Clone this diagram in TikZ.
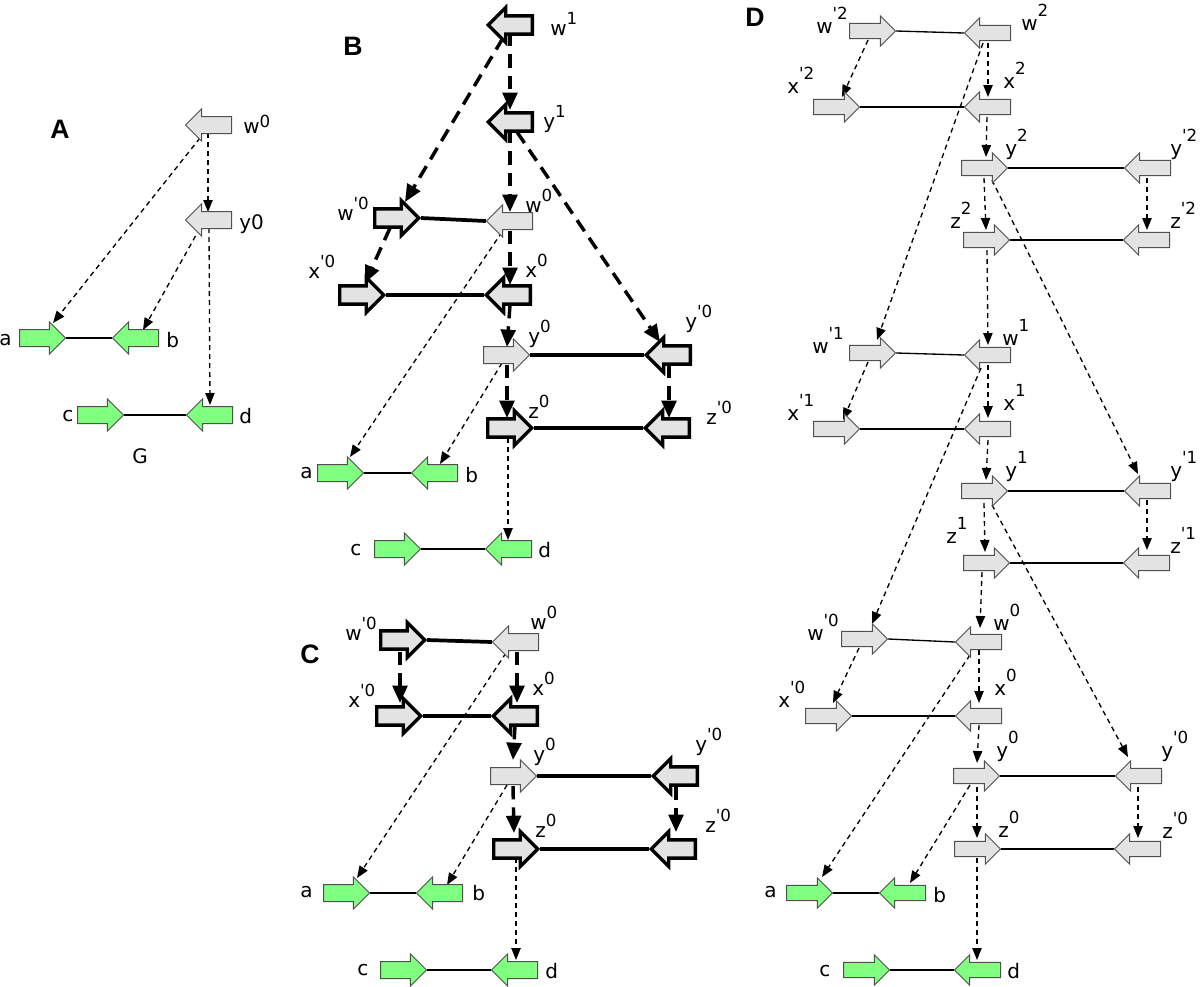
\documentclass[tikz,border=0pt]{standalone}
\usepackage{fontspec}
\setmainfont{DejaVu Sans}
\newfontfamily\panelfont{Liberation Sans}
\usetikzlibrary{shapes.arrows,arrows.meta,calc}
\pgfdeclarelayer{back}
\pgfdeclarelayer{bg}
\pgfsetlayers{back,bg,main}
\definecolor{lgray}{HTML}{E3E3E3}
\definecolor{lgreen}{HTML}{80FF80}
\definecolor{bord}{HTML}{505050}
\newcommand\sps[2][8]{\raisebox{#1pt}{\fontsize{12.5}{12.5}\selectfont #2}}
\newcommand\pr{\textquotesingle}
\begin{document}
\begin{tikzpicture}[x=0.75pt,y=-0.75pt,
  arr/.style={single arrow,inner xsep=0pt,inner ysep=6pt,single arrow head extend=5.7pt,
    minimum height=34.5pt,single arrow tip angle=90,anchor=tail,line join=miter},
  R/.style={arr},
  L/.style={arr,shape border rotate=180},
  dsz/.style={inner ysep=5.3pt,single arrow head extend=5.6pt},
  thinbox/.style={draw=bord,fill=lgray,line width=0.75pt},
  thickbox/.style={draw=black,fill=lgray,line width=2.5pt,inner ysep=5.6pt,single arrow head extend=6.2pt,minimum height=33pt},
  greenbox/.style={draw=bord,fill=lgreen,line width=0.75pt},
  thind/.style={dash pattern=on 3.75pt off 3pt,line width=1pt,-{Triangle[length=9pt,width=7pt]}},
  thickd/.style={dash pattern=on 10pt off 6pt,line width=2.6pt,-{Triangle[length=13pt,width=11pt]}},
  thickline/.style={line width=2.8pt},
  midline/.style={line width=2.2pt},
  dline/.style={line width=1pt},
  lab/.style={anchor=base west,inner sep=0pt,font=\fontsize{15}{15}\selectfont},
  plab/.style={anchor=base west,inner sep=0pt,font=\panelfont\bfseries\fontsize{20}{20}\selectfont}
]
\begin{pgfonlayer}{back}
\fill[white] (0,0) rectangle (1200,986);
\end{pgfonlayer}
\useasboundingbox (0,0) rectangle (1200,986);

% ================= Panel A =================
\node[plab] (Alet) at (50,138) {A};
\node[L,thinbox] (Aw0) at (232,125) {};
\node[L,thinbox] (Ay0) at (232,220) {};
\node[R,greenbox] (Aa) at (19,338) {};
\node[L,greenbox] (Ab) at (159,338) {};
\node[R,greenbox] (Ac) at (77,415) {};
\node[L,greenbox] (Ad) at (233,415) {};
\node[lab] (Aw0l) at (243,133) {w\sps[4]{0}};
\node[lab] (Ay0l) at (239,229) {y0};
\node[lab] (Aal) at (-1,345) {a};
\node[lab] (Abl) at (166,347) {b};
\node[lab] (Acl) at (62,421) {c};
\node[lab] (Adl) at (239,423) {d};
\node[lab] (AG) at (132,463) {G};

% ================= Panel B =================
\node[plab] (Blet) at (343,55) {B};
\node[L,thickbox] (Bw1) at (534,25) {};
\node[L,thickbox] (By1) at (534,122) {};
\node[R,thickbox] (Bwp0) at (373,218) {};
\node[L,thinbox] (Bw0) at (533,221) {};
\node[R,thickbox] (Bxp0) at (338,295) {};
\node[L,thickbox] (Bx0) at (532,295) {};
\node[R,thinbox] (By0) at (483,355) {};
\node[L,thickbox] (Byp0) at (692,355) {};
\node[R,thickbox] (Bz0) at (486,428) {};
\node[L,thickbox] (Bzp0) at (691,428) {};
\node[R,greenbox] (Ba) at (317,473) {};
\node[L,greenbox] (Bb) at (458,473) {};
\node[R,greenbox] (Bc) at (374,549) {};
\node[L,greenbox] (Bd) at (532,549) {};
\node[lab] (Bw1l) at (550,35) {w\sps{1}};
\node[lab] (By1l) at (543,128) {y\sps{1}};
\node[lab] (Bwp0l) at (337,220) {w\sps{\pr0}};
\node[lab] (Bw0l) at (525,212) {w\sps{0}};
\node[lab] (Bxp0l) at (308,278) {x\sps{\pr0}};
\node[lab] (Bx0l) at (525,277) {x\sps{0}};
\node[lab] (By0l) at (528,343) {y\sps{0}};
\node[lab] (Byp0l) at (685,328) {y\sps{\pr0}};
\node[lab] (Bz0l) at (528,418) {z\sps{0}};
\node[lab] (Bzp0l) at (706,424) {z\sps{\pr0}};
\node[lab] (Bal) at (300,478) {a};
\node[lab] (Bbl) at (465,482) {b};
\node[lab] (Bcl) at (350,555) {c};
\node[lab] (Bdl) at (538,557) {d};

% ================= Panel C =================
\node[plab] (Clet) at (300,663) {C};
\node[R,thickbox] (Cwp0) at (379,640) {};
\node[L,thinbox] (Cw0) at (539,642) {};
\node[R,thickbox] (Cxp0) at (375,716) {};
\node[L,thickbox] (Cx0) at (539,716) {};
\node[R,thinbox] (Cy0) at (490,776) {};
\node[L,thickbox] (Cyp0) at (699,776) {};
\node[R,thickbox] (Cz0) at (492,849) {};
\node[L,thickbox] (Czp0) at (697,849) {};
\node[R,greenbox] (Ca) at (323,893) {};
\node[L,greenbox] (Cb) at (463,893) {};
\node[R,greenbox] (Cc) at (380,970) {};
\node[L,greenbox] (Cd) at (538,970) {};
\node[lab] (Cwp0l) at (345,640) {w\sps{\pr0}};
\node[lab] (Cw0l) at (530,629) {w\sps{0}};
\node[lab] (Cxp0l) at (348,707) {x\sps{\pr0}};
\node[lab] (Cx0l) at (532,695) {x\sps{0}};
\node[lab] (Cy0l) at (533,761) {y\sps{0}};
\node[lab] (Cyp0l) at (695,751) {y\sps{\pr0}};
\node[lab] (Cz0l) at (535,837) {z\sps{0}};
\node[lab] (Czp0l) at (705,832) {z\sps{\pr0}};
\node[lab] (Cal) at (300,897) {a};
\node[lab] (Cbl) at (472,900) {b};
\node[lab] (Ccl) at (357,975) {c};
\node[lab] (Cdl) at (545,978) {d};

% ================= Panel D =================
\node[plab] (Dlet) at (745,26) {D};
\node[R,dsz,thinbox] (Dwp2) at (849,31) {};
\node[L,dsz,thinbox] (Dw2) at (1011,33) {};
\node[R,dsz,thinbox] (Dxp2) at (813,107) {};
\node[L,dsz,thinbox] (Dx2) at (1011,107) {};
\node[R,dsz,thinbox] (Dy2) at (961,168) {};
\node[L,dsz,thinbox] (Dyp2) at (1171,168) {};
\node[R,dsz,thinbox] (Dz2) at (963,240) {};
\node[L,dsz,thinbox] (Dzp2) at (1170,240) {};
\node[R,dsz,thinbox] (Dwp1) at (849,353) {};
\node[L,dsz,thinbox] (Dw1) at (1011,355) {};
\node[R,dsz,thinbox] (Dxp1) at (813,429) {};
\node[L,dsz,thinbox] (Dx1) at (1011,429) {};
\node[R,dsz,thinbox] (Dy1) at (961,491) {};
\node[L,dsz,thinbox] (Dyp1) at (1171,491) {};
\node[R,dsz,thinbox] (Dz1) at (963,563) {};
\node[L,dsz,thinbox] (Dzp1) at (1170,563) {};
\node[R,dsz,thinbox] (Dwp0) at (841,639) {};
\node[L,dsz,thinbox] (Dw0) at (1002,642) {};
\node[R,dsz,thinbox] (Dxp0) at (805,716) {};
\node[L,dsz,thinbox] (Dx0) at (1002,716) {};
\node[R,dsz,thinbox] (Dy0) at (953,776) {};
\node[L,dsz,thinbox] (Dyp0) at (1162,776) {};
\node[R,dsz,thinbox] (Dz0) at (954,849) {};
\node[L,dsz,thinbox] (Dzp0) at (1161,849) {};
\node[R,dsz,greenbox] (Da) at (786,893) {};
\node[L,dsz,greenbox] (Db) at (926,893) {};
\node[R,dsz,greenbox] (Dc) at (843,970) {};
\node[L,dsz,greenbox] (Dd) at (1001,970) {};
\node[lab] (Dwp2l) at (816,33) {w\sps[10]{\pr2}};
\node[lab] (Dw2l) at (1021,30) {w\sps[10]{2}};
\node[lab] (Dxp2l) at (787,93) {x\sps[10]{\pr2}};
\node[lab] (Dx2l) at (1003,88) {x\sps[10]{2}};
\node[lab] (Dy2l) at (1005,155) {y\sps[10]{2}};
\node[lab] (Dyp2l) at (1170,155) {y\sps[10]{\pr2}};
\node[lab] (Dz2l) at (950,228) {z\sps[10]{2}};
\node[lab] (Dzp2l) at (1170,228) {z\sps[10]{\pr2}};
\node[lab] (Dwp1l) at (812,353) {w\sps[10]{\pr1}};
\node[lab] (Dw1l) at (1002,345) {w\sps[10]{1}};
\node[lab] (Dxp1l) at (787,420) {x\sps[10]{\pr1}};
\node[lab] (Dx1l) at (1003,410) {x\sps[10]{1}};
\node[lab] (Dy1l) at (1005,477) {y\sps[10]{1}};
\node[lab] (Dyp1l) at (1170,477) {y\sps[10]{\pr1}};
\node[lab] (Dz1l) at (946,543) {z\sps[10]{1}};
\node[lab] (Dzp1l) at (1170,553) {z\sps[10]{\pr1}};
\node[lab] (Dwp0l) at (807,640) {w\sps[10]{\pr0}};
\node[lab] (Dw0l) at (993,630) {w\sps[10]{0}};
\node[lab] (Dxp0l) at (778,707) {x\sps[10]{\pr0}};
\node[lab] (Dx0l) at (994,695) {x\sps[10]{0}};
\node[lab] (Dy0l) at (996,757) {y\sps[10]{0}};
\node[lab] (Dyp0l) at (1161,757) {y\sps[10]{\pr0}};
\node[lab] (Dz0l) at (998,837) {z\sps[10]{0}};
\node[lab] (Dzp0l) at (1162,838) {z\sps[10]{\pr0}};
\node[lab] (Dal) at (764,897) {a};
\node[lab] (Dbl) at (933,902) {b};
\node[lab] (Dcl) at (819,976) {c};
\node[lab] (Ddl) at (1007,978) {d};

% ================= connectors =================
\begin{pgfonlayer}{bg}
% A
\draw[midline] (Aa.tip) -- (Ab.tip);
\draw[midline] (Ac.tip) -- (Ad.tip);
\draw[thind] ($(Aw0.tail)+(-32,13)$) -- ($(Aa.tail)+(34,-15)$);
\draw[thind] ($(Aw0.tail)+(-24,8)$) -- ($(Ay0.tail)+(-24,-8)$);
\draw[thind] ($(Ay0.tail)+(-32,8)$) -- ($(Ab.tail)+(-16,-8)$);
\draw[thind] ($(Ay0.tail)+(-23,8)$) -- ($(Ad.tail)+(-23,-10)$);
% B
\draw[thickline] (Bwp0.tip) -- (Bw0.tip);
\draw[thickline] (Bxp0.tip) -- (Bx0.tip);
\draw[thickline] (By0.tip) -- (Byp0.tip);
\draw[thickline] (Bz0.tip) -- (Bzp0.tip);
\draw[midline] (Ba.tip) -- (Bb.tip);
\draw[midline] (Bc.tip) -- (Bd.tip);
\draw[thickd] ($(Bw1.tail)+(-24,8)$) -- ($(By1.tail)+(-24,-12)$);
\draw[thickd] ($(Bw1.tail)+(-31,13)$) -- ($(Bwp0.tail)+(32,-16)$);
\draw[thickd] ($(By1.tail)+(-24,8)$) -- ($(Bw0.tail)+(-23,-9)$);
\draw[thickd] ($(By1.tail)+(-17,10)$) -- ($(Byp0.tail)+(-32,-13)$);
\draw[thickd] ($(Bwp0.tail)+(17,10)$) -- ($(Bxp0.tail)+(27,-12)$);
\draw[thickd] ($(Bw0.tail)+(-23,10)$) -- ($(Bx0.tail)+(-22,-10)$);
\draw[thickd] ($(Bx0.tail)+(-22,10)$) -- ($(By0.tail)+(24,-8)$);
\draw[thickd] ($(By0.tail)+(24,10)$) -- ($(Bz0.tail)+(21,-10)$);
\draw[thickd] ($(Byp0.tail)+(-23,10)$) -- ($(Bzp0.tail)+(-22,-10)$);
\draw[thind] ($(Bw0.tail)+(-31,11)$) -- ($(Ba.tail)+(33,-16)$);
\draw[thind] ($(By0.tail)+(19,8)$) -- ($(Bb.tail)+(-18,-9)$);
\draw[thind] ($(Bz0.tail)+(22,10)$) -- ($(Bd.tail)+(-24,-9)$);
% C
\draw[thickline] (Cwp0.tip) -- (Cw0.tip);
\draw[thickline] (Cxp0.tip) -- (Cx0.tip);
\draw[thickline] (Cy0.tip) -- (Cyp0.tip);
\draw[thickline] (Cz0.tip) -- (Czp0.tip);
\draw[midline] (Ca.tip) -- (Cb.tip);
\draw[midline] (Cc.tip) -- (Cd.tip);
\draw[thickd] ($(Cwp0.tail)+(21,12)$) -- ($(Cxp0.tail)+(25,-13)$);
\draw[thickd] ($(Cw0.tail)+(-22,10)$) -- ($(Cx0.tail)+(-22,-13)$);
\draw[thickd] ($(Cx0.tail)+(-24,10)$) -- ($(Cy0.tail)+(23,-16)$);
\draw[thickd] ($(Cy0.tail)+(23,10)$) -- ($(Cz0.tail)+(22,-16)$);
\draw[thickd] ($(Cyp0.tail)+(-23,11)$) -- ($(Czp0.tail)+(-21,-17)$);
\draw[thind] ($(Cw0.tail)+(-33,11)$) -- ($(Ca.tail)+(34,-15)$);
\draw[thind] ($(Cy0.tail)+(17,9)$) -- ($(Cb.tail)+(-16,-8)$);
\draw[thind] ($(Cz0.tail)+(24,9)$) -- ($(Cd.tail)+(-22,-10)$);
% D
\foreach \l in {2,1,0}{
  \draw[dline] (Dwp\l.tip) -- (Dw\l.tip);
  \draw[dline] (Dxp\l.tip) -- (Dx\l.tip);
  \draw[dline] (Dy\l.tip) -- (Dyp\l.tip);
  \draw[dline] (Dz\l.tip) -- (Dzp\l.tip);
}
\draw[dline] (Da.tip) -- (Db.tip);
\draw[dline] (Dc.tip) -- (Dd.tip);
\draw[thind] ($(Dwp2.tail)+(19,9)$) -- ($(Dxp2.tail)+(29,-10)$);
\draw[thind] ($(Dw2.tail)+(-23,10)$) -- ($(Dx2.tail)+(-23,-10)$);
\draw[thind] ($(Dw2.tail)+(-28,10)$) -- ($(Dwp1.tail)+(28,-13)$);
\draw[thind] ($(Dx2.tail)+(-24,10)$) -- ($(Dy2.tail)+(25,-11)$);
\draw[thind] ($(Dy2.tail)+(23,10)$) -- ($(Dz2.tail)+(23,-10)$);
\draw[thind] ($(Dy2.tail)+(31,12)$) -- ($(Dyp1.tail)+(-33,-17)$);
\draw[thind] ($(Dyp2.tail)+(-24,10)$) -- ($(Dzp2.tail)+(-23,-10)$);
\draw[thind] ($(Dz2.tail)+(24,10)$) -- ($(Dw1.tail)+(-23,-10)$);
\draw[thind] ($(Dwp1.tail)+(19,9)$) -- ($(Dxp1.tail)+(30,-9)$);
\draw[thind] ($(Dw1.tail)+(-23,10)$) -- ($(Dx1.tail)+(-23,-11)$);
\draw[thind] ($(Dw1.tail)+(-30,13)$) -- ($(Dwp0.tail)+(31,-15)$);
\draw[thind] ($(Dx1.tail)+(-23,11)$) -- ($(Dy1.tail)+(25,-11)$);
\draw[thind] ($(Dy1.tail)+(23,12)$) -- ($(Dz1.tail)+(22,-11)$);
\draw[thind] ($(Dy1.tail)+(31,14)$) -- ($(Dyp0.tail)+(-34,-19)$);
\draw[thind] ($(Dyp1.tail)+(-24,9)$) -- ($(Dzp1.tail)+(-23,-13)$);
\draw[thind] ($(Dz1.tail)+(19,9)$) -- ($(Dw0.tail)+(-22,-14)$);
\draw[thind] ($(Dwp0.tail)+(18,9)$) -- ($(Dxp0.tail)+(28,-13)$);
\draw[thind] ($(Dw0.tail)+(-23,8)$) -- ($(Dx0.tail)+(-23,-13)$);
\draw[thind] ($(Dw0.tail)+(-32,13)$) -- ($(Da.tail)+(36,-16)$);
\draw[thind] ($(Dx0.tail)+(-23,9)$) -- ($(Dy0.tail)+(24,-13)$);
\draw[thind] ($(Dy0.tail)+(24,11)$) -- ($(Dz0.tail)+(23,-11)$);
\draw[thind] ($(Dy0.tail)+(17,9)$) -- ($(Db.tail)+(-16,-10)$);
\draw[thind] ($(Dyp0.tail)+(-24,11)$) -- ($(Dzp0.tail)+(-23,-11)$);
\draw[thind] ($(Dz0.tail)+(23,9)$) -- ($(Dd.tail)+(-24,-10)$);
\end{pgfonlayer}
\end{tikzpicture}
\end{document}
